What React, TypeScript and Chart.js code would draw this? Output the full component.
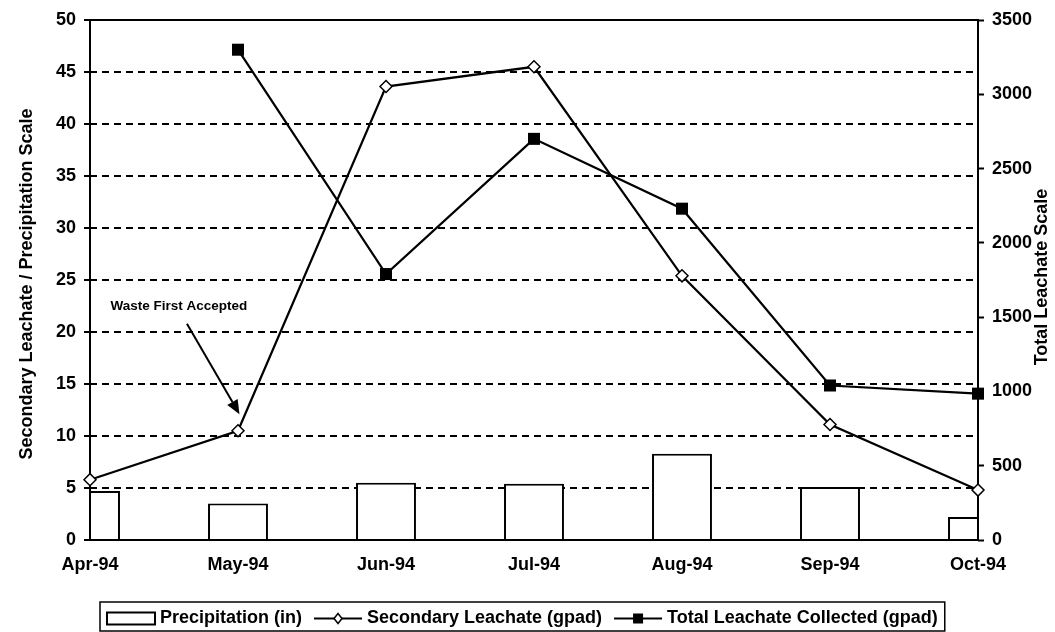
import React, { useEffect, useRef } from 'react';
import { Chart, registerables } from 'chart.js';

Chart.register(...registerables);

// ---- data ----
const months = ['Apr-94', 'May-94', 'Jun-94', 'Jul-94', 'Aug-94', 'Sep-94', 'Oct-94'];
const precipitation = [4.7, 3.5, 5.5, 5.4, 8.3, 5.1, 2.2];
const secondaryLeachate = [5.8, 10.5, 43.6, 45.5, 25.4, 11.1, 4.8];
const totalLeachate = [null, 3300, 1790, 2700, 2230, 1040, 985];

const leftAxis = { min: 0, max: 50, step: 5 };
const rightAxis = { min: 0, max: 3500, step: 500 };

const leftTitle = 'Secondary Leachate / Precipitation Scale';
const rightTitle = 'Total Leachate Scale';

const seriesLabels = ['Precipitation (in)', 'Secondary Leachate (gpad)', 'Total Leachate Collected (gpad)'];

// annotation, in data coordinates (category index, left-axis value)
const annotationText = 'Waste First Accepted';
const annotationAt = [0.6, 22.5];
const arrowFrom = [0.655, 20.8];
const arrowTo = [1.01, 12.1];

const FONT = '"Liberation Sans", Arial, Helvetica, sans-serif';

const framePlugin = {
  id: 'frame',
  afterDatasetDraw(chart: any, args: any) {
    if (args.index !== 0) return;
    const { ctx, chartArea: a } = chart;
    ctx.save();
    ctx.strokeStyle = '#000';
    ctx.lineWidth = 2;
    ctx.setLineDash([]);
    ctx.strokeRect(a.left, a.top, a.right - a.left, a.bottom - a.top);
    ctx.restore();
  },
};

const extrasPlugin = {
  id: 'extras',
  afterDraw(chart: any) {
    const { ctx, chartArea: a, scales } = chart;
    const x = scales.x, y = scales.y;
    ctx.save();
    ctx.fillStyle = '#000';
    ctx.strokeStyle = '#000';

    // axis titles
    ctx.font = `bold 18px ${FONT}`;
    ctx.textAlign = 'center';
    ctx.textBaseline = 'middle';
    ctx.save();
    ctx.translate(27, (a.top + a.bottom) / 2 + 4);
    ctx.rotate(-Math.PI / 2);
    ctx.fillText(leftTitle, 0, 0);
    ctx.restore();
    ctx.save();
    ctx.translate(chart.width - 13, (a.top + a.bottom) / 2 - 3);
    ctx.rotate(-Math.PI / 2);
    ctx.fillText(rightTitle, 0, 0);
    ctx.restore();

    // annotation
    ctx.font = `bold 13.5px ${FONT}`;
    ctx.fillText(annotationText, x.getPixelForValue(annotationAt[0]), y.getPixelForValue(annotationAt[1]));
    const x1 = x.getPixelForValue(arrowFrom[0]), y1 = y.getPixelForValue(arrowFrom[1]);
    const x2 = x.getPixelForValue(arrowTo[0]), y2 = y.getPixelForValue(arrowTo[1]);
    const ang = Math.atan2(y2 - y1, x2 - x1);
    const hl = 14, hw = 6;
    const bx = x2 - hl * Math.cos(ang), by = y2 - hl * Math.sin(ang);
    ctx.lineWidth = 2;
    ctx.beginPath();
    ctx.moveTo(x1, y1);
    ctx.lineTo(bx, by);
    ctx.stroke();
    ctx.beginPath();
    ctx.moveTo(x2, y2);
    ctx.lineTo(bx + hw * Math.sin(ang), by - hw * Math.cos(ang));
    ctx.lineTo(bx - hw * Math.sin(ang), by + hw * Math.cos(ang));
    ctx.closePath();
    ctx.fill();

    // boxed legend
    ctx.font = `bold 18px ${FONT}`;
    ctx.textAlign = 'left';
    const top = chart.height - 30, bottom = chart.height - 1;
    const cy = (top + bottom) / 2 + 2;
    const left = a.left + 10;
    const pad = 7, sw = 48, gapS = 5, gapI = 12;
    let cx = left + pad;
    chart.data.datasets.forEach((ds: any, i: number) => {
      ctx.lineWidth = 2;
      if (i === 0) {
        ctx.fillStyle = '#fff';
        ctx.fillRect(cx, cy - 6, sw, 12);
        ctx.strokeRect(cx, cy - 6, sw, 12);
      } else {
        ctx.beginPath();
        ctx.moveTo(cx, cy);
        ctx.lineTo(cx + sw, cy);
        ctx.stroke();
        const mx = cx + sw / 2;
        if (i === 1) {
          ctx.fillStyle = '#fff';
          ctx.lineWidth = 1.5;
          ctx.beginPath();
          ctx.moveTo(mx, cy - 5);
          ctx.lineTo(mx + 4, cy);
          ctx.lineTo(mx, cy + 5);
          ctx.lineTo(mx - 4, cy);
          ctx.closePath();
          ctx.fill();
          ctx.stroke();
        } else {
          ctx.fillStyle = '#000';
          ctx.fillRect(mx - 5, cy - 5, 10, 10);
        }
      }
      cx += sw + gapS;
      ctx.fillStyle = '#000';
      ctx.fillText(ds.label, cx, cy);
      cx += ctx.measureText(ds.label).width + gapI;
    });
    const right = cx - gapI + pad;
    ctx.lineWidth = 1.5;
    ctx.strokeRect(left, top, right - left, bottom - top);
    ctx.restore();
  },
};

export default function App() {
  const ref = useRef<HTMLCanvasElement | null>(null);
  useEffect(() => {
    document.body.style.margin = '0';
    const canvas = ref.current!;
    const chart = new Chart(canvas, {
      type: 'bar',
      data: {
        labels: months,
        datasets: [
          {
            type: 'bar',
            label: seriesLabels[0],
            data: precipitation,
            yAxisID: 'y',
            backgroundColor: '#fff',
            borderColor: '#000',
            borderWidth: 2,
            barPercentage: 0.405,
            categoryPercentage: 1,
            clip: 0,
            order: 3,
          } as any,
          {
            type: 'line',
            label: seriesLabels[1],
            data: secondaryLeachate,
            yAxisID: 'y',
            borderColor: '#000',
            borderWidth: 2.2,
            pointStyle: 'rectRot',
            pointRadius: 6,
            pointBackgroundColor: '#fff',
            pointBorderColor: '#000',
            pointBorderWidth: 1.5,
            tension: 0,
            clip: false,
            order: 2,
          } as any,
          {
            type: 'line',
            label: seriesLabels[2],
            data: totalLeachate,
            yAxisID: 'y2',
            borderColor: '#000',
            borderWidth: 2.2,
            pointStyle: 'rect',
            pointRadius: 8.5,
            pointBackgroundColor: '#000',
            pointBorderColor: '#000',
            pointBorderWidth: 0,
            tension: 0,
            clip: false,
            spanGaps: false,
            order: 1,
          } as any,
        ],
      },
      options: {
        responsive: false,
        animation: false,
        devicePixelRatio: 1,
        layout: { padding: { top: 20, left: 0, right: 0, bottom: 0 } },
        plugins: { legend: { display: false }, tooltip: { enabled: false } },
        scales: {
          x: {
            type: 'category',
            offset: false,
            grid: { display: false, drawTicks: false },
            border: { display: false },
            ticks: { color: '#000', font: { family: FONT, size: 18, weight: 'bold' }, padding: 14, maxRotation: 0, autoSkip: false },
            afterFit: (s: any) => { s.height = 92; },
          },
          y: {
            position: 'left',
            min: leftAxis.min,
            max: leftAxis.max,
            ticks: { stepSize: leftAxis.step, color: '#000', font: { family: FONT, size: 18, weight: 'bold' }, padding: 8 },
            grid: {
              color: (c: any) => (c.tick && (c.tick.value === leftAxis.min || c.tick.value === leftAxis.max) ? 'rgba(0,0,0,0)' : '#000'),
              lineWidth: 2,
              tickColor: '#000',
              tickLength: 6,
              tickWidth: 2,
              tickBorderDash: [],
            },
            border: { display: false, dash: [7, 5] },
            afterFit: (s: any) => { s.width = 90; },
          },
          y2: {
            position: 'right',
            min: rightAxis.min,
            max: rightAxis.max,
            ticks: {
              stepSize: rightAxis.step,
              color: '#000',
              font: { family: FONT, size: 18, weight: 'bold' },
              padding: 8,
              callback: (v: any) => String(v),
            },
            grid: { drawOnChartArea: false, tickColor: '#000', tickLength: 6, tickWidth: 2, color: '#000' },
            border: { display: false },
            afterFit: (s: any) => { s.width = 77; },
          },
        },
      },
      plugins: [framePlugin, extrasPlugin],
    } as any);
    return () => chart.destroy();
  }, []);
  return (
    <div style={{ width: 1055, height: 632, background: '#fff' }}>
      <canvas ref={ref} width={1055} height={632} style={{ display: 'block' }} />
    </div>
  );
}
